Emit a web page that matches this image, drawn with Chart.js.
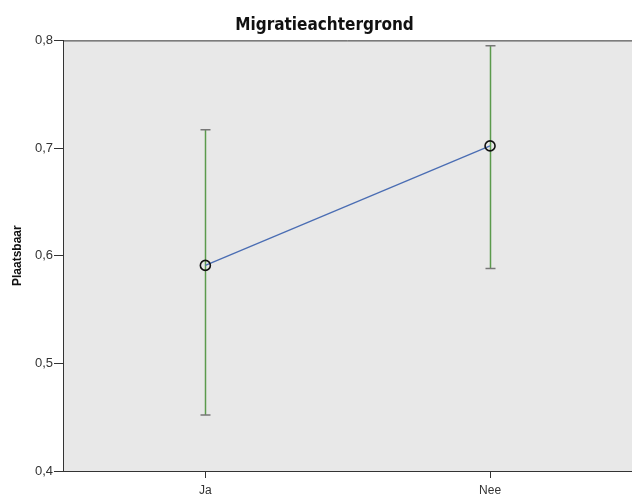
<!DOCTYPE html>
<html lang="nl">
<head>
    <meta charset="utf-8" />
    <title>Migratieachtergrond</title>
    <style>
        html, body { margin: 0; padding: 0; background: #fff; overflow: hidden; }
        #wrap { width: 632px; height: 497px; overflow: hidden; }
        canvas { display: block; }
    </style>
</head>
<body>
    <!-- canvas iets breder dan het venster: Chart.js houdt rechts een paar pixels vrij -->
    <div id="wrap"><canvas id="chart" width="639" height="497"></canvas></div>
    <script src="https://cdn.jsdelivr.net/npm/chart.js@4.4.1/dist/chart.umd.min.js"></script>
    <script>
        const categories = ['Ja', 'Nee'];
        const means = [0.591, 0.702];
        const lowerCI = [0.452, 0.588];
        const upperCI = [0.717, 0.795];
        const yTicks = [0.4, 0.5, 0.6, 0.7, 0.8];

        // achtergrond van het plotvlak + bovenrand
        const plotBackground = {
            id: 'plotBackground',
            beforeDraw(chart) {
                const { ctx, chartArea: a } = chart;
                ctx.save();
                ctx.fillStyle = '#e8e8e8';
                ctx.fillRect(a.left, a.top, a.right - a.left, a.bottom - a.top);
                ctx.strokeStyle = '#333';
                ctx.lineWidth = 1;
                ctx.beginPath();
                ctx.moveTo(a.left, a.top + 0.5);
                ctx.lineTo(a.right, a.top + 0.5);
                ctx.stroke();
                ctx.restore();
            }
        };

        // foutbalken (95% BI)
        const errorBars = {
            id: 'errorBars',
            beforeDatasetsDraw(chart) {
                const { ctx, scales } = chart;
                ctx.save();
                categories.forEach(function (c, i) {
                    const x = Math.round(scales.x.getPixelForValue(i)) + 0.5;
                    const yLo = scales.y.getPixelForValue(lowerCI[i]);
                    const yHi = scales.y.getPixelForValue(upperCI[i]);
                    ctx.strokeStyle = '#5b9a4c';
                    ctx.lineWidth = 1.5;
                    ctx.beginPath();
                    ctx.moveTo(x, yLo);
                    ctx.lineTo(x, yHi);
                    ctx.stroke();
                    ctx.strokeStyle = '#777';
                    ctx.lineWidth = 1.5;
                    ctx.beginPath();
                    ctx.moveTo(x - 5, yLo);
                    ctx.lineTo(x + 5, yLo);
                    ctx.moveTo(x - 5, yHi);
                    ctx.lineTo(x + 5, yHi);
                    ctx.stroke();
                });
                ctx.restore();
            }
        };

        const ctx = document.getElementById('chart').getContext('2d');
        const chart = new Chart(ctx, {
            type: 'line',
            data: {
                labels: categories,
                datasets: [{
                    data: means,
                    borderColor: '#4a6db3',
                    borderWidth: 1.3,
                    pointRadius: 5,
                    pointBorderWidth: 1.6,
                    pointBorderColor: '#111',
                    pointBackgroundColor: 'rgba(0,0,0,0)',
                    tension: 0
                }]
            },
            options: {
                responsive: false,
                animation: false,
                layout: { padding: { left: 10, right: 0, top: 0, bottom: 0 } },
                plugins: {
                    legend: { display: false },
                    tooltip: { enabled: false },
                    title: {
                        display: true,
                        text: 'Migratieachtergrond',
                        color: '#111',
                        font: { family: 'DejaVu Sans Condensed, Liberation Sans Narrow, Liberation Sans', size: 17, weight: 'bold' },
                        padding: { top: 15, bottom: 5 }
                    }
                },
                scales: {
                    x: {
                        type: 'category',
                        offset: true,
                        afterFit(axis) {
                            axis.height = 26;
                        },
                        grid: { display: true, offset: false, drawOnChartArea: false, drawTicks: true, tickLength: 7, color: '#333' },
                        border: { display: true, color: '#333', width: 1 },
                        ticks: { color: '#333', padding: 5, font: { family: 'Liberation Sans, Arial', size: 12 } }
                    },
                    y: {
                        min: 0.4,
                        max: 0.8,
                        afterBuildTicks(axis) {
                            axis.ticks = yTicks.map(function (v) { return { value: v }; });
                        },
                        afterFit(axis) {
                            axis.width = 53;
                        },
                        grid: { display: true, drawOnChartArea: false, drawTicks: true, tickLength: 9, color: '#333' },
                        border: { display: true, color: '#333', width: 1 },
                        ticks: {
                            color: '#333',
                            padding: 1,
                            font: { family: 'Liberation Sans, Arial', size: 13 },
                            callback: function (v) { return v.toFixed(1).replace('.', ','); }
                        },
                        title: {
                            display: true,
                            text: 'Plaatsbaar',
                            color: '#111',
                            font: { family: 'Liberation Sans, Arial', size: 12, weight: 'bold' },
                            padding: { top: 0, bottom: 0 }
                        }
                    }
                }
            },
            plugins: [plotBackground, errorBars]
        });
    </script>
</body>
</html>
